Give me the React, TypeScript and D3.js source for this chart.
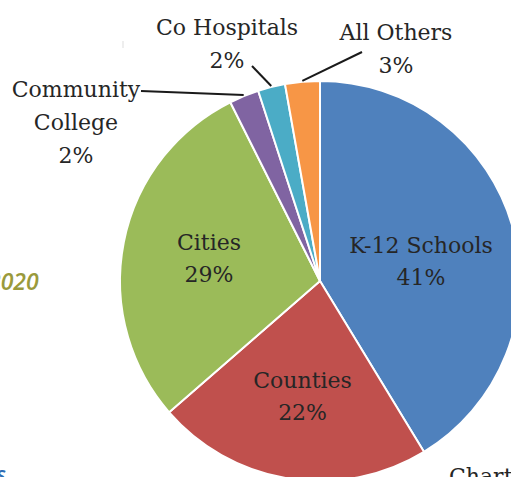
import React from "react";
import * as d3 from "d3";

const categories = ["K-12 Schools", "Counties", "Cities", "Community College", "Co Hospitals", "All Others"];
const values = [41.3, 22.3, 29.0, 2.4, 2.2, 2.8];
const percentLabels = ["41%", "22%", "29%", "2%", "2%", "3%"];
const colors = ["#4f81bd", "#c0504d", "#9bbb59", "#8064a2", "#4bacc6", "#f79646"];

const W = 511, H = 477;
const cx = 320, cy = 281, R = 200;
const FONT = "'DejaVu Serif', serif";
const TEXT = "#262626";

const innerNudge: Record<string, [number, number]> = {
  "K-12 Schools": [-2, 6],
  "Counties": [-1, 6],
  "Cities": [-6, -5],
};

const outerLayout: Record<string, { x: number; y: number; lines: string[]; lx: number; ly: number }> = {
  "Community College": { x: 76, y: 97, lines: ["Community", "College"], lx: 141, ly: 91 },
  "Co Hospitals": { x: 227, y: 35, lines: ["Co Hospitals"], lx: 252, ly: 66 },
  "All Others": { x: 396, y: 40, lines: ["All Others"], lx: 362, ly: 52 },
};

export default function App() {
  const data = categories.map((c, i) => ({ name: c, value: values[i], pct: percentLabels[i], color: colors[i] }));
  const pie = d3.pie<any>().sort(null).value((d: any) => d.value);
  const arcs = pie(data);
  const arc = d3.arc<any>().innerRadius(0).outerRadius(R);

  return (
    <svg width={W} height={H} style={{ position: "absolute", left: 0, top: 0, background: "#fff" }}>
      <text x={-12} y={290} style={{ fontFamily: "Open Sans, sans-serif", fontStyle: "italic", fontWeight: 600, fontSize: 23 }} fill="#9a9a3c">2020</text>
      <text x={-4} y={482} style={{ fontFamily: "Open Sans, sans-serif", fontStyle: "italic", fontWeight: 600, fontSize: 22 }} fill="#2e6db4">s</text>
      <line x1={123} y1={41} x2={123} y2={48} stroke="#ddd" strokeWidth={1} />
      <g transform={`translate(${cx},${cy})`}>
        {arcs.map((a, i) => (
          <path key={i} d={arc(a) as string} fill={a.data.color} stroke="#fff" strokeWidth={2} strokeLinejoin="round" />
        ))}
      </g>
      {arcs.map((a, i) => {
        const mid = (a.startAngle + a.endAngle) / 2;
        const lay = outerLayout[a.data.name];
        if (!lay) {
          const r = 107;
          const [nx, ny] = innerNudge[a.data.name] || [0, 0];
          const x = cx + r * Math.sin(mid) + nx;
          const y = cy - r * Math.cos(mid) + ny;
          return (
            <g key={i} style={{ fontFamily: FONT, fontSize: 22 }} fill={TEXT} textAnchor="middle">
              <text x={x} y={y - 5}>{a.data.name}</text>
              <text x={x} y={y + 27}>{a.data.pct}</text>
            </g>
          );
        }
        const ex = cx + (R + 1) * Math.sin(mid);
        const ey = cy - (R + 1) * Math.cos(mid);
        return (
          <g key={i} style={{ fontFamily: FONT, fontSize: 22 }} fill={TEXT} textAnchor="middle">
            <line x1={lay.lx} y1={lay.ly} x2={ex} y2={ey} stroke="#1a1a1a" strokeWidth={2} />
            {lay.lines.map((l, j) => (
              <text key={j} x={lay.x} y={lay.y + j * 33}>{l}</text>
            ))}
            <text x={lay.x} y={lay.y + lay.lines.length * 33}>{a.data.pct}</text>
          </g>
        );
      })}
      <text x={449} y={484} style={{ fontFamily: FONT, fontSize: 22 }} fill={TEXT}>Chart I</text>
    </svg>
  );
}
